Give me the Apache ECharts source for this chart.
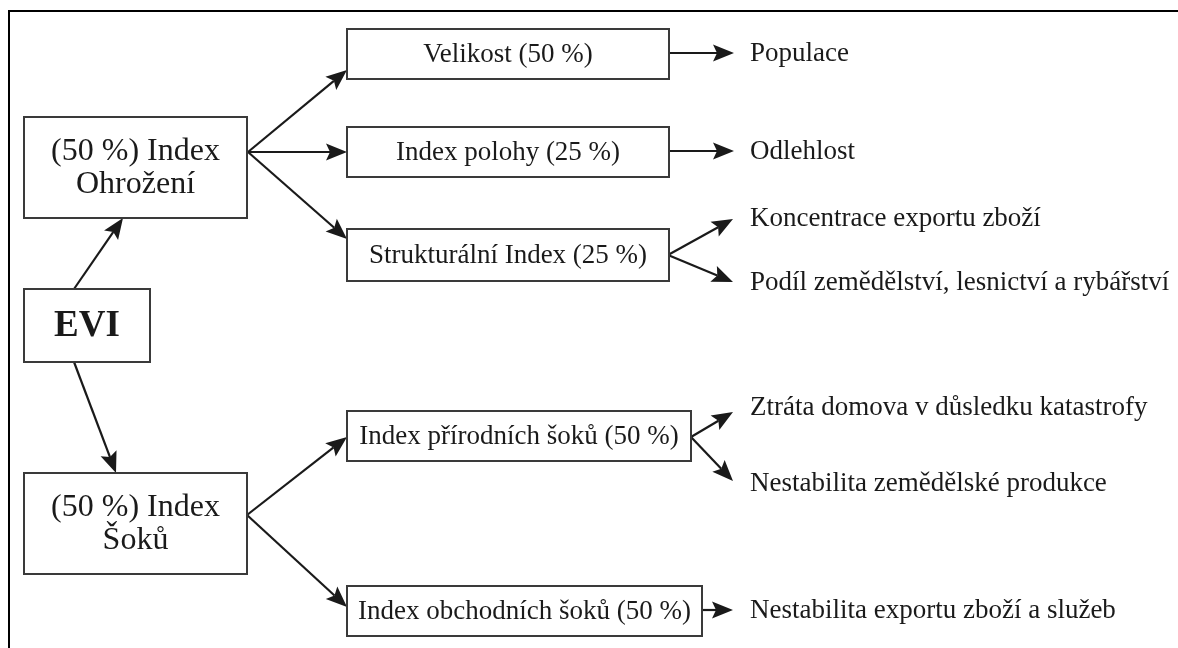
<!DOCTYPE html>
<html>
<head>
<meta charset="utf-8">
<script src="https://cdn.jsdelivr.net/npm/echarts@6/dist/echarts.min.js"></script>
<style>
  html, body { margin: 0; padding: 0; background: #fff; }
  #chart { width: 1178px; height: 648px; }
</style>
</head>
<body>
<div id="chart"></div>
<script>
// ---- Diagram content (EVI structure) ----
const boxLabels = [
  'EVI',
  '(50 %) Index\nOhrožení',
  '(50 %) Index\nŠoků',
  'Velikost (50 %)',
  'Index polohy (25 %)',
  'Strukturální Index (25 %)',
  'Index přírodních šoků (50 %)',
  'Index obchodních šoků (50 %)'
];
// box extents in diagram units
const boxLeft   = [24, 24, 24, 347, 347, 347, 347, 347];
const boxTop    = [289, 117, 473, 29, 127, 229, 411, 586];
const boxRight  = [150, 247, 247, 669, 669, 669, 691, 702];
const boxBottom = [362, 218, 574, 79, 177, 281, 461, 636];

const leafLabels = [
  'Populace',
  'Odlehlost',
  'Koncentrace exportu zboží',
  'Podíl zemědělství, lesnictví a rybářství',
  'Ztráta domova v důsledku katastrofy',
  'Nestabilita zemědělské produkce',
  'Nestabilita exportu zboží a služeb'
];
const leafX = [750, 750, 750, 750, 750, 750, 750];
const leafY = [53, 151, 218, 282, 407, 483, 610];

// arrows: start and end points in diagram units
const arrowFrom = [
  [74, 289], [74, 362],
  [248, 152], [248, 152], [248, 152],
  [247, 515], [247, 515],
  [669, 53], [669, 151], [668, 255], [668, 255],
  [691, 437], [691, 437], [702, 610]
];
const arrowTo = [
  [123, 218], [116, 473],
  [347, 70], [347, 152], [347, 239],
  [347, 437], [347, 607],
  [734, 53], [734, 151], [733, 219], [733, 282],
  [733, 412], [733, 481], [733, 610]
];

const FONT = '"Liberation Serif", "Times New Roman", serif';
const INK = '#1a1a1a';

const boxData = boxLabels.map((t, i) => [boxLeft[i], boxTop[i], boxRight[i], boxBottom[i], i]);
const arrowData = arrowFrom.map((p, i) => [p[0], p[1], arrowTo[i][0], arrowTo[i][1]]);
const leafData = leafLabels.map((t, i) => [leafX[i], leafY[i], i]);

function renderBox(params, api) {
  const i = api.value(4);
  const p0 = api.coord([api.value(0), api.value(1)]);
  const p1 = api.coord([api.value(2), api.value(3)]);
  const x = Math.min(p0[0], p1[0]), y = Math.min(p0[1], p1[1]);
  const w = Math.abs(p1[0] - p0[0]), h = Math.abs(p1[1] - p0[1]);
  let fontSize = 27, fontWeight = 'normal';
  if (i === 0) { fontSize = 37; fontWeight = 'bold'; }
  else if (i === 1 || i === 2) { fontSize = 32; }
  return {
    type: 'group',
    children: [
      { type: 'rect', shape: { x: x, y: y, width: w, height: h },
        style: { fill: '#fff', stroke: '#3a3a3a', lineWidth: 2 } },
      { type: 'text', x: x + w / 2, y: y + h / 2 + 1,
        style: { text: boxLabels[i], fill: INK, fontSize: fontSize, fontWeight: fontWeight,
                 fontFamily: FONT, align: 'center', verticalAlign: 'middle', lineHeight: 33 } }
    ]
  };
}

function renderArrow(params, api) {
  const a = api.coord([api.value(0), api.value(1)]);
  const b = api.coord([api.value(2), api.value(3)]);
  const dx = b[0] - a[0], dy = b[1] - a[1];
  const len = Math.hypot(dx, dy);
  const ux = dx / len, uy = dy / len;
  const px = -uy, py = ux;
  const L = 21, W = 8.5, notch = 4;
  const bx = b[0] - ux * L, by = b[1] - uy * L;
  const nx = b[0] - ux * (L - notch), ny = b[1] - uy * (L - notch);
  return {
    type: 'group',
    children: [
      { type: 'line', shape: { x1: a[0], y1: a[1], x2: nx, y2: ny },
        style: { stroke: INK, lineWidth: 2.2 } },
      { type: 'polygon',
        shape: { points: [[b[0], b[1]], [bx + px * W, by + py * W], [nx, ny], [bx - px * W, by - py * W]] },
        style: { fill: INK } }
    ]
  };
}

function renderLeaf(params, api) {
  const p = api.coord([api.value(0), api.value(1)]);
  const i = api.value(2);
  return {
    type: 'text', x: p[0], y: p[1] + 1,
    style: { text: leafLabels[i], fill: INK, fontSize: 27, fontFamily: FONT,
             align: 'left', verticalAlign: 'middle' }
  };
}

const chart = echarts.init(document.getElementById('chart'), null, { renderer: 'canvas' });
chart.setOption({
  backgroundColor: '#fff',
  animation: false,
  grid: { left: 0, right: 0, top: 0, bottom: 0 },
  xAxis: { type: 'value', min: 0, max: 1178, show: false },
  yAxis: { type: 'value', min: 0, max: 648, inverse: true, show: false },
  graphic: [
    { type: 'line', shape: { x1: 9, y1: 11, x2: 1178, y2: 11 }, style: { stroke: '#000', lineWidth: 2 } },
    { type: 'line', shape: { x1: 9, y1: 10, x2: 9, y2: 648 }, style: { stroke: '#000', lineWidth: 2 } }
  ],
  series: [
    { type: 'custom', renderItem: renderArrow, data: arrowData, clip: false,
      encode: { x: [0, 2], y: [1, 3] }, silent: true, z: 2 },
    { type: 'custom', renderItem: renderBox, data: boxData, clip: false,
      encode: { x: [0, 2], y: [1, 3] }, silent: true, z: 3 },
    { type: 'custom', renderItem: renderLeaf, data: leafData, clip: false,
      encode: { x: 0, y: 1 }, silent: true, z: 3 }
  ]
});
</script>
</body>
</html>
